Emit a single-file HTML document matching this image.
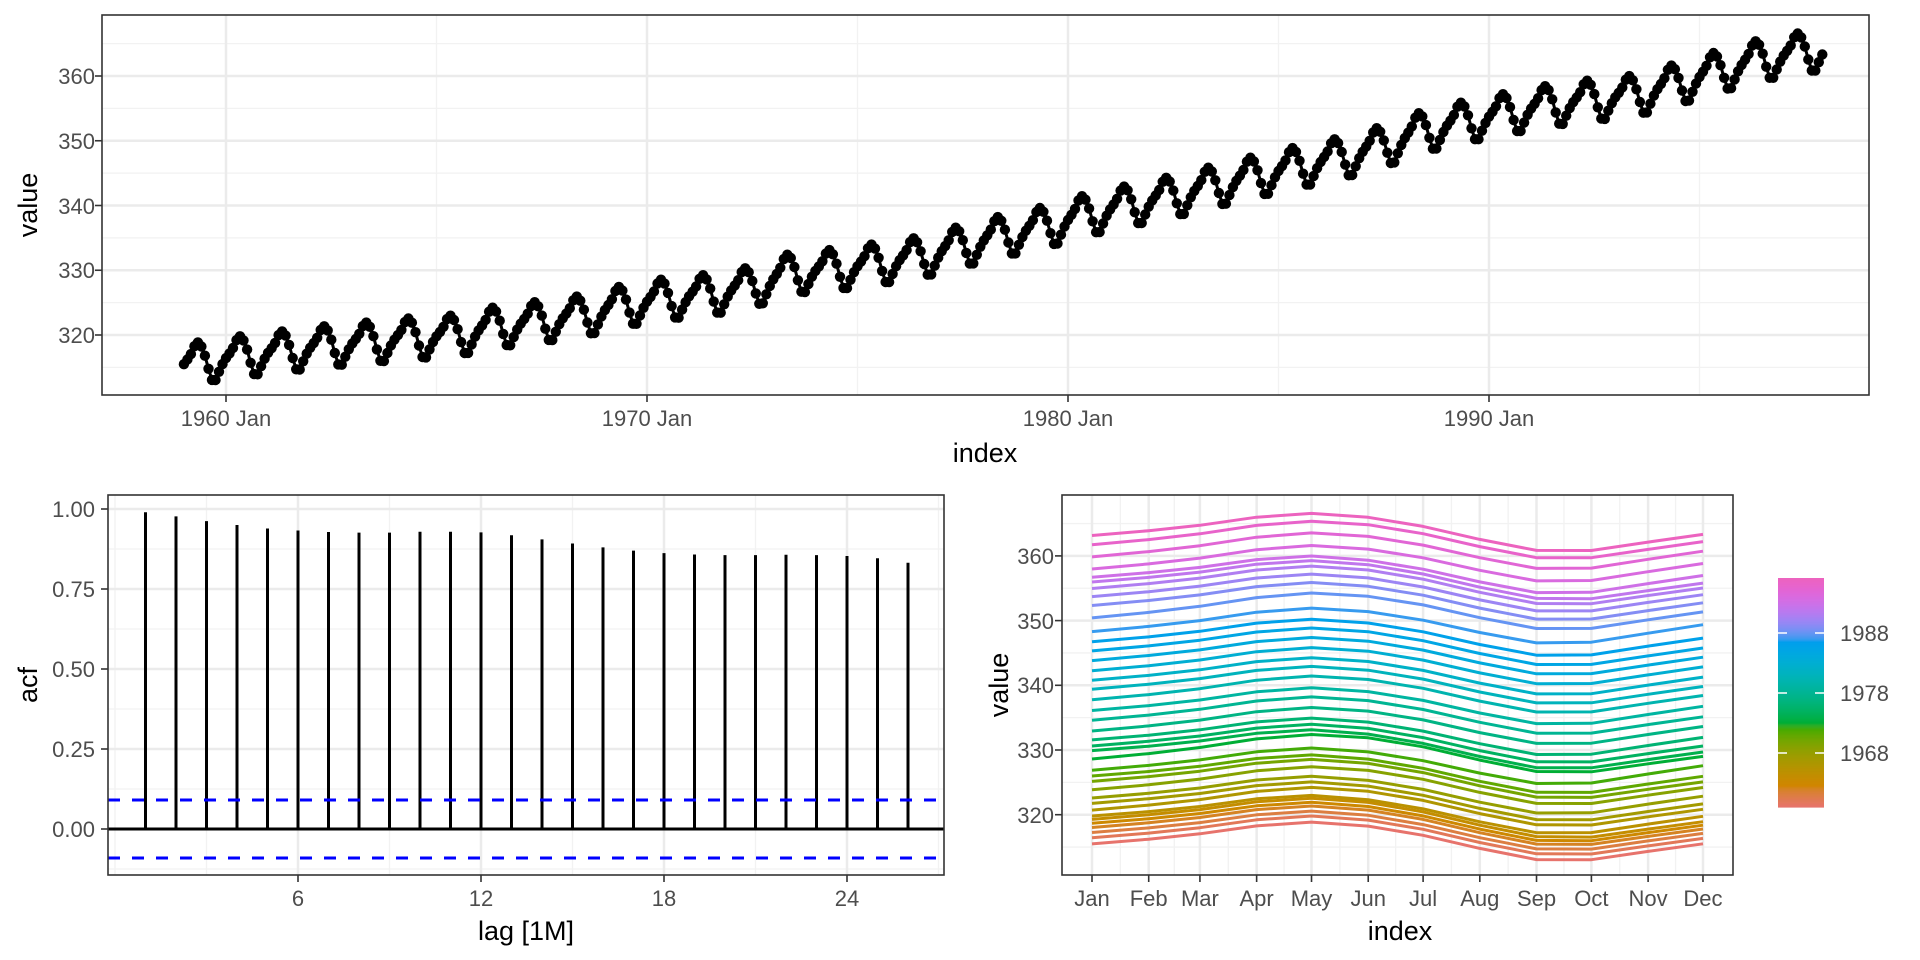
<!DOCTYPE html>
<html><head><meta charset="utf-8"><style>
html,body{margin:0;padding:0;background:#fff;}
svg{display:block;font-family:"Liberation Sans",sans-serif;}
.tk{font-size:22px;fill:#4D4D4D;}
.tt{font-size:27px;fill:#000;}
</style></head><body>
<svg id="s" width="1920" height="960" viewBox="0 0 1920 960" xmlns="http://www.w3.org/2000/svg">
<rect width="1920" height="960" fill="#fff"/>
<g id="g"></g>
<g class="tk" text-anchor="end">
<text x="95" y="84">360</text><text x="95" y="149">350</text><text x="95" y="214">340</text><text x="95" y="278">330</text><text x="95" y="343">320</text>
</g>
<g class="tk" text-anchor="middle">
<text x="226" y="426">1960 Jan</text><text x="647" y="426">1970 Jan</text><text x="1068" y="426">1980 Jan</text><text x="1489" y="426">1990 Jan</text>
</g>
<text class="tt" x="985" y="462" text-anchor="middle">index</text>
<text class="tt" transform="translate(37,205) rotate(-90)" text-anchor="middle">value</text>
<g class="tk" text-anchor="end">
<text x="95" y="517">1.00</text><text x="95" y="597">0.75</text><text x="95" y="677">0.50</text><text x="95" y="757">0.25</text><text x="95" y="837">0.00</text>
</g>
<g class="tk" text-anchor="middle">
<text x="298" y="906">6</text><text x="481" y="906">12</text><text x="664" y="906">18</text><text x="847" y="906">24</text>
</g>
<text class="tt" x="526" y="940" text-anchor="middle">lag [1M]</text>
<text class="tt" transform="translate(37,685) rotate(-90)" text-anchor="middle">acf</text>
<g class="tk" text-anchor="end">
<text x="1054" y="564">360</text><text x="1054" y="629">350</text><text x="1054" y="693">340</text><text x="1054" y="758">330</text><text x="1054" y="823">320</text>
</g>
<g class="tk" text-anchor="middle" id="months"></g>
<text class="tt" x="1400" y="940" text-anchor="middle">index</text>
<text class="tt" transform="translate(1008,685) rotate(-90)" text-anchor="middle">value</text>
<g class="tk">
<text x="1840" y="641">1988</text><text x="1840" y="701">1978</text><text x="1840" y="761">1968</text>
</g>
</svg>
<script>
var NS="http://www.w3.org/2000/svg",G=document.getElementById("g");
function el(t,a){var e=document.createElementNS(NS,t);for(var k in a)e.setAttribute(k,a[k]);G.appendChild(e);return e;}
function ln(x1,y1,x2,y2,c,w,extra){var a={x1:x1,y1:y1,x2:x2,y2:y2,stroke:c,"stroke-width":w};if(extra)for(var k in extra)a[k]=extra[k];return el("line",a);}
var MJ="#EBEBEB",MN="#F2F2F2";
var ann=[315.97,316.91,317.64,318.45,318.99,319.62,320.04,321.38,322.16,323.04,324.62,325.68,326.32,327.45,329.68,330.18,331.08,332.05,333.78,335.41,336.78,338.68,340.10,341.44,343.03,344.58,346.04,347.39,349.16,351.56,353.07,354.35,355.57,356.38,357.07,358.82,360.80,362.59,363.71];
var seas=[-0.05,0.6,1.35,2.5,3.0,2.3,0.8,-1.3,-3.1,-3.2,-2.0,-0.9];
function trend(t){var i=t-1959-0.5;if(i<=0)return ann[0]+(ann[1]-ann[0])*i;if(i>=ann.length-1){var n=ann.length-1;return ann[n]+(ann[n]-ann[n-1])*(i-n);}var a=Math.floor(i);return ann[a]+(ann[a+1]-ann[a])*(i-a);}
function val(y,m){return trend(y+(m+0.5)/12)+seas[m];}
var L=102,R=1869,T=15,B=395;
function ty(v){return 335-6.475*(v-320);}
function tx(t){return 226+42.1*(t-1960);}
for(var v=315;v<=365;v+=10)ln(L,ty(v),R,ty(v),MN,1.3);
[1955,1965,1975,1985,1995].forEach(function(y){var x=tx(y);if(x>L)ln(x,T,x,B,MN,1.3);});
for(var v=320;v<=360;v+=10)ln(L,ty(v),R,ty(v),MJ,2.5);
[1960,1970,1980,1990].forEach(function(y){ln(tx(y),T,tx(y),B,MJ,2.5);});
var pts=[];
for(var y=1959;y<=1997;y++)for(var m=0;m<12;m++){pts.push([tx(y+m/12),ty(val(y,m))]);}
var d="";pts.forEach(function(p,i){d+=(i?"L":"M")+p[0].toFixed(1)+" "+p[1].toFixed(1);});
el("path",{d:d,fill:"none",stroke:"#000","stroke-width":3});
pts.forEach(function(p){el("circle",{cx:p[0].toFixed(1),cy:p[1].toFixed(1),r:5.2,fill:"#000"});});
el("rect",{x:L,y:T,width:R-L,height:B-T,fill:"none",stroke:"#333","stroke-width":1.6});
for(var v=320;v<=360;v+=10)ln(L-7,ty(v),L,ty(v),"#333",1.6);
[1960,1970,1980,1990].forEach(function(y){ln(tx(y),B,tx(y),B+7,"#333",1.6);});
L=108;R=944;T=495;B=875;
function ay(v){return 829-320*v;}function ax(k){return 115+30.5*k;}
[-0.125,0.125,0.375,0.625,0.875].forEach(function(v){ln(L,ay(v),R,ay(v),MN,1.3);});
[3,9,15,21,27].forEach(function(k){ln(ax(k),T,ax(k),B,MN,1.3);});
ln(ax(0),T,ax(0),B,MN,1.3);
[0,0.25,0.5,0.75,1].forEach(function(v){ln(L,ay(v),R,ay(v),MJ,2.5);});
[6,12,18,24].forEach(function(k){ln(ax(k),T,ax(k),B,MJ,2.5);});
var acf=[0.99,0.977,0.962,0.95,0.939,0.933,0.928,0.926,0.926,0.929,0.929,0.927,0.918,0.905,0.892,0.88,0.87,0.862,0.858,0.856,0.856,0.857,0.856,0.853,0.846,0.832];
acf.forEach(function(v,i){ln(ax(i+1),ay(0),ax(i+1),ay(v),"#000",3);});
ln(L,ay(0),R,ay(0),"#000",3);
ln(L,800,R,800,"#0000FF",3,{"stroke-dasharray":"12 12"});
ln(L,858,R,858,"#0000FF",3,{"stroke-dasharray":"12 12"});
el("rect",{x:L,y:T,width:R-L,height:B-T,fill:"none",stroke:"#333","stroke-width":1.6});
[0,0.25,0.5,0.75,1].forEach(function(v){ln(L-7,ay(v),L,ay(v),"#333",1.6);});
[6,12,18,24].forEach(function(k){ln(ax(k),B,ax(k),B+7,"#333",1.6);});
L=1062;R=1733;T=495;B=875;
var days=[0,31,59,90,120,151,181,212,243,273,304,334];
function sy(v){return 814.7-6.47*(v-320);}function sx(m){return 1092+days[m]*1.8293;}
for(var v=315;v<=365;v+=10)ln(L,sy(v),R,sy(v),MN,1.3);
for(var m=0;m<11;m++){var xm=(sx(m)+sx(m+1))/2;ln(xm,T,xm,B,MN,1.3);}
for(var v=320;v<=360;v+=10)ln(L,sy(v),R,sy(v),MJ,2.5);
for(var m=0;m<12;m++)ln(sx(m),T,sx(m),B,MJ,2.5);
function hcl(h,c,l){h=h*Math.PI/180;var u=c*Math.cos(h),v=c*Math.sin(h);var Xn=95.047,Yn=100,Zn=108.883;
var Y=Yn*Math.pow((l+16)/116,3);var den=Xn+15*Yn+3*Zn,un=4*Xn/den,vn=9*Yn/den;var up=u/(13*l)+un,vp=v/(13*l)+vn;
var X=Y*9*up/(4*vp),Z=Y*(12-3*up-20*vp)/(4*vp);X/=100;Y/=100;Z/=100;
var r=3.2404542*X-1.5371385*Y-0.4985314*Z,g=-0.9692660*X+1.8760108*Y+0.0415560*Z,b=0.0556434*X-0.2040259*Y+1.0572252*Z;
function gm(x){x=x<=0.0031308?12.92*x:1.055*Math.pow(x,1/2.4)-0.055;return Math.max(0,Math.min(255,Math.round(x*255)));}
return "rgb("+gm(r)+","+gm(g)+","+gm(b)+")";}
function col(t){return hcl(15+315*t,88,62);}
for(var y=1959;y<=1997;y++){var dd="";for(var m=0;m<12;m++)dd+=(m?"L":"M")+sx(m).toFixed(1)+" "+sy(val(y,m)).toFixed(1);
el("path",{d:dd,fill:"none",stroke:col((y-1959)/38),"stroke-width":3,"stroke-linejoin":"round"});}
el("rect",{x:L,y:T,width:R-L,height:B-T,fill:"none",stroke:"#333","stroke-width":1.6});
for(var v=320;v<=360;v+=10)ln(L-7,sy(v),L,sy(v),"#333",1.6);
var MN_=["Jan","Feb","Mar","Apr","May","Jun","Jul","Aug","Sep","Oct","Nov","Dec"],mg=document.getElementById("months");
for(var m=0;m<12;m++){ln(sx(m),B,sx(m),B+7,"#333",1.6);var t=document.createElementNS(NS,"text");t.setAttribute("x",sx(m));t.setAttribute("y",906);t.textContent=MN_[m];mg.appendChild(t);}
for(var i=0;i<229;i++){var t=i/228;el("rect",{x:1778,y:(807-i-1).toFixed(0),width:46,height:1.6,fill:col(t)});}
[633,693,753].forEach(function(yy){ln(1778,yy,1787,yy,"#fff",1.5);ln(1815,yy,1824,yy,"#fff",1.5);});
</script>
</body></html>
